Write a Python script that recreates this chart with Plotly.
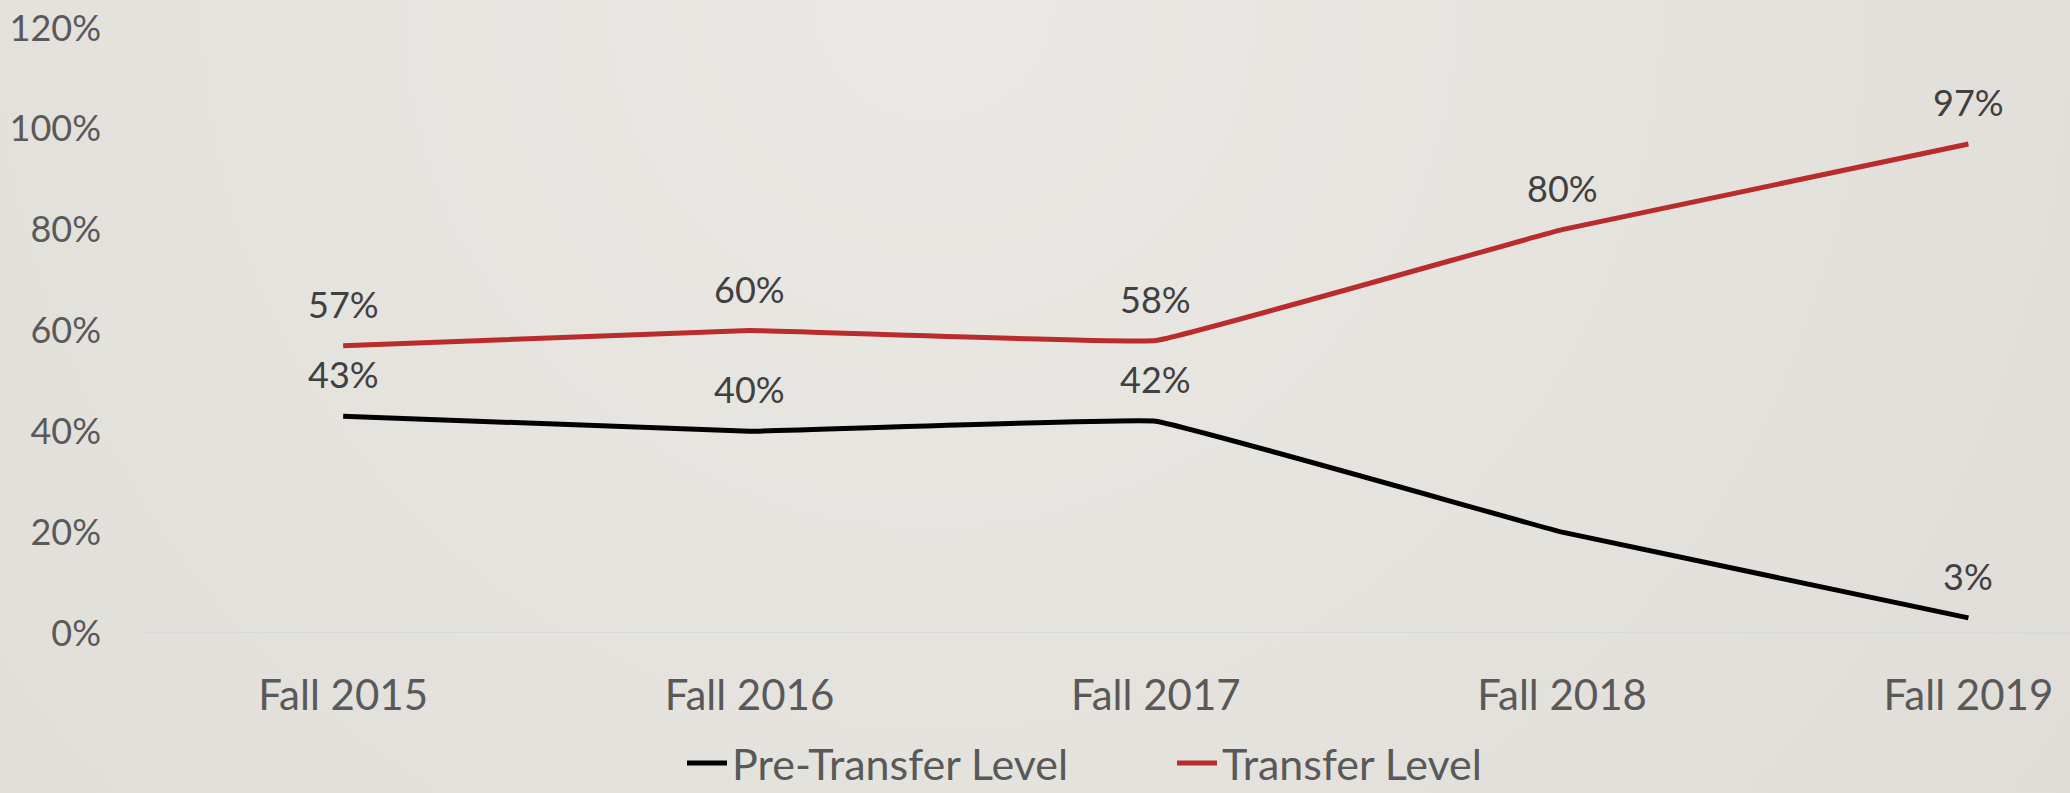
import base64
import plotly.graph_objects as go

categories = ["Fall 2015", "Fall 2016", "Fall 2017", "Fall 2018", "Fall 2019"]
pre_transfer = [43, 40, 42, 20, 3]
transfer = [57, 60, 58, 80, 97]
pre_labels = ["43%", "40%", "42%", "", "3%"]
transfer_labels = ["57%", "60%", "58%", "80%", "97%"]
y_ticks = [0, 20, 40, 60, 80, 100, 120]
y_tick_text = ["0%", "20%", "40%", "60%", "80%", "100%", "120%"]

W, H = 2070, 793
ML, MR, MT, MB = 140, 0, 28, 160
PW, PH = W - ML - MR, H - MT - MB

FONT = "Lato, 'Open Sans', sans-serif"
RED = "#BA2B2B"

svg = f'''<svg xmlns="http://www.w3.org/2000/svg" width="{W}" height="{H}" viewBox="0 0 {W} {H}" preserveAspectRatio="none">
<defs><radialGradient id="g" cx="0.45" cy="0.0" r="0.9" gradientTransform="scale(1,2.6)">
<stop offset="0" stop-color="#ebe9e5"/><stop offset="1" stop-color="#dcd9d3"/></radialGradient></defs>
<rect width="{W}" height="{H}" fill="url(#g)"/></svg>'''
src = "data:image/svg+xml;base64," + base64.b64encode(svg.encode()).decode()

fig = go.Figure()
fig.add_trace(go.Scatter(x=categories, y=pre_transfer, mode="lines", name="Pre-Transfer Level",
                         line=dict(color="#000000", width=5, shape="spline", smoothing=0.2)))
fig.add_trace(go.Scatter(x=categories, y=transfer, mode="lines", name="Transfer Level",
                         line=dict(color=RED, width=5, shape="spline", smoothing=0.2)))

for xs, ys, labs in [(categories, pre_transfer, pre_labels), (categories, transfer, transfer_labels)]:
    for c, v, t in zip(xs, ys, labs):
        if t:
            fig.add_annotation(x=c, y=v, text=t, showarrow=False, yshift=42,
                               font=dict(family=FONT, size=36, color="#404040"))

fig.add_layout_image(dict(source=src, xref="paper", yref="paper",
                          x=-ML / PW, y=1 + MT / PH, sizex=W / PW, sizey=H / PH,
                          xanchor="left", yanchor="top", sizing="stretch", layer="below"))

fig.update_layout(
    width=W, height=H,
    margin=dict(l=ML, r=MR, t=MT, b=MB, autoexpand=False),
    paper_bgcolor="#e3e1dc", plot_bgcolor="rgba(0,0,0,0)",
    font=dict(family=FONT, color="#595959"),
    showlegend=True,
    legend=dict(orientation="h", x=(682 - ML) / PW, xanchor="left", y=-0.215, yanchor="middle",
                font=dict(family=FONT, size=43, color="#595959"), bgcolor="rgba(0,0,0,0)",
                itemwidth=40, tracegroupgap=0, entrywidth=435, entrywidthmode="pixels"),
    xaxis=dict(range=[-0.5, 4.25], showgrid=False, zeroline=False, showline=False,
               ticks="", ticklabelstandoff=34,
               tickfont=dict(family=FONT, size=42, color="#595959")),
    yaxis=dict(range=[0, 120], tickvals=y_ticks, ticktext=y_tick_text, showgrid=False,
               zeroline=False, showline=False, ticks="", ticklabelstandoff=38,
               tickfont=dict(family=FONT, size=36, color="#595959")),
)
fig.add_shape(type="line", xref="paper", yref="y", x0=0, x1=1, y0=0, y1=0,
              line=dict(color="#d6dadc", width=2), layer="below")

fig.write_html("out.html")
